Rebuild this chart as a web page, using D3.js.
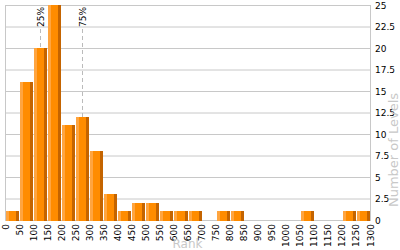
<!DOCTYPE html>
<html><head><meta charset="utf-8">
<script src="https://cdn.jsdelivr.net/npm/d3@7"></script>
<style>body{margin:0;background:#fff}svg{display:block}</style>
</head><body>
<script>
const binStarts = [0,50,100,150,200,250,300,350,400,450,500,550,600,650,700,750,800,850,900,950,1000,1050,1100,1150,1200,1250];
const counts    = [1,16,20,25,11,12,8,3,1,2,2,1,1,1,0,1,1,0,0,0,0,1,0,0,1,1];
const xTicks = d3.range(0, 1301, 50);
const yTicks = [0,2.5,5,7.5,10,12.5,15,17.5,20,22.5,25];
const percentiles = [{label:"25%", value:125},{label:"75%", value:274}];
const xTitle = "Rank", yTitle = "Number of Levels";

const W=400,H=250, L=5, R=370, T=5, B=220;
const svg = d3.select("body").append("svg").attr("width",W).attr("height",H);
const x = d3.scaleLinear().domain([0,1300]).range([L,R]);
const y = d3.scaleLinear().domain([0,25]).range([B,T]);
const font = "DejaVu Sans, Verdana, sans-serif";

// grid
svg.append("g").selectAll("line").data(yTicks).join("line")
  .attr("x1",L).attr("x2",R).attr("y1",d=>y(d)+0.5).attr("y2",d=>y(d)+0.5)
  .attr("stroke","#c8c8c8").attr("stroke-width",1);
svg.append("line").attr("x1",L+0.5).attr("x2",L+0.5).attr("y1",T).attr("y2",B+1).attr("stroke","#c8c8c8");
svg.append("line").attr("x1",R+0.5).attr("x2",R+0.5).attr("y1",T).attr("y2",B+1).attr("stroke","#c8c8c8");

// percentile lines
const pg = svg.append("g");
percentiles.forEach(p=>{
  const px = Math.round(x(p.value))+0.5;
  pg.append("line").attr("x1",px).attr("x2",px).attr("y1",29).attr("y2",B)
    .attr("stroke","#bbb").attr("stroke-dasharray","4,3");
  pg.append("text").attr("transform",`translate(${px+3.5},27) rotate(-90)`)
    .attr("font-family",font).attr("font-size",9).attr("fill","#000").text(p.label);
});

// bars
const bw = 50;
const bars = svg.append("g").selectAll("g").data(binStarts.map((s,i)=>({s,c:counts[i]})).filter(d=>d.c>0)).join("g");
bars.each(function(d){
  const g=d3.select(this);
  const x0=Math.round(x(d.s))+1, x1=Math.round(x(d.s+bw));
  const yt=Math.round(y(d.c)), h=B+1-yt;
  const w=x1-x0;
  g.append("rect").attr("x",x0).attr("y",yt).attr("width",w).attr("height",h).attr("fill","#ff8c00");
  g.append("rect").attr("x",x0).attr("y",yt).attr("width",3).attr("height",h).attr("fill","#ffa540");
  g.append("rect").attr("x",x1-3).attr("y",yt).attr("width",3).attr("height",h).attr("fill","#c46400");
});

// y axis labels (right)
svg.append("g").selectAll("text").data(yTicks).join("text")
  .attr("x",375).attr("y",d=>y(d)+0.5).attr("dy","0.35em")
  .attr("font-family",font).attr("font-size",9).attr("fill","#000").text(d=>d);

// x axis labels
svg.append("g").selectAll("text").data(xTicks).join("text")
  .attr("transform",d=>`translate(${x(d)+3.5},224) rotate(-90)`)
  .attr("text-anchor","end")
  .attr("font-family",font).attr("font-size",9).attr("fill","#000").text(d=>d);

// titles
svg.append("text").attr("x",(L+R)/2).attr("y",248).attr("text-anchor","middle")
  .attr("font-family",font).attr("font-size",12).attr("fill","#c8c8c8").text(xTitle);
svg.append("text").attr("transform",`translate(398,150) rotate(-90)`).attr("text-anchor","middle")
  .attr("font-family",font).attr("font-size",13).attr("fill","#c8c8c8").text(yTitle);
</script>
</body></html>
